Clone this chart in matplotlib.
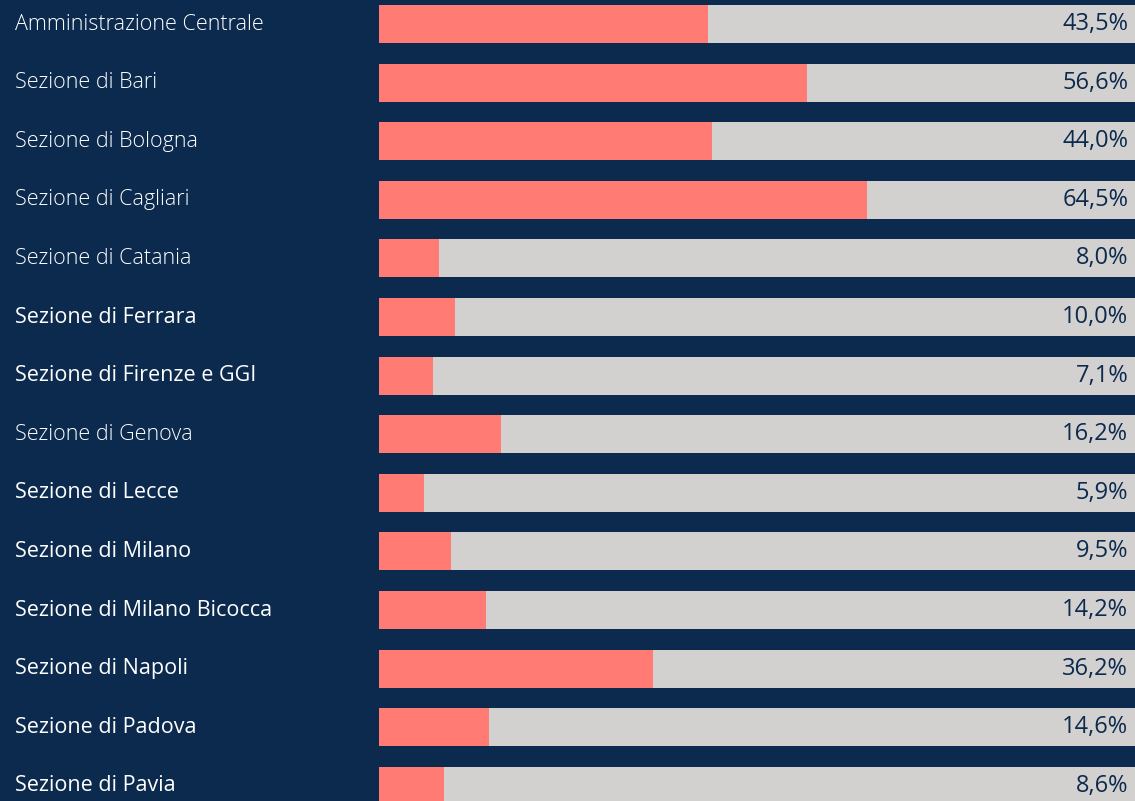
import matplotlib
matplotlib.use("Agg")
import matplotlib.pyplot as plt
import matplotlib.transforms as mtransforms

categories = [
    "Amministrazione Centrale", "Sezione di Bari", "Sezione di Bologna",
    "Sezione di Cagliari", "Sezione di Catania", "Sezione di Ferrara",
    "Sezione di Firenze e GGI", "Sezione di Genova", "Sezione di Lecce",
    "Sezione di Milano", "Sezione di Milano Bicocca", "Sezione di Napoli",
    "Sezione di Padova", "Sezione di Pavia",
]
values = [43.5, 56.6, 44.0, 64.5, 8.0, 10.0, 7.1, 16.2, 5.9, 9.5, 14.2, 36.2, 14.6, 8.6]
label_weights = ["light", "light", "light", "light", "light", "normal", "normal",
                 "light", "normal", "normal", "normal", "normal", "normal", "normal"]

BG = "#0b2a4d"
PINK = "#ff7b73"
GREY = "#d3d0d0"
NAVY = "#0b2a4d"

W, H = 1135, 801
fig = plt.figure(figsize=(W / 100, H / 100), dpi=100, facecolor=BG)
ax = fig.add_axes([379 / W, 0, 756 / W, 1])
ax.set_facecolor(BG)

step = 58.6
n = len(categories)
ypos = list(range(n))
bar_h = 38 / step

ax.barh(ypos, [100] * n, height=bar_h, color=GREY, left=0)
ax.barh(ypos, values, height=bar_h, color=PINK, left=0)

ax.set_xlim(0, 100)
top = -24 / step
bottom = (H - 24) / step
ax.set_ylim(bottom, top)
ax.axis("off")

blend = mtransforms.blended_transform_factory(fig.transFigure, ax.transData)
for i, (c, v, w) in enumerate(zip(categories, values, label_weights)):
    ax.text(99.1, i, f"{v:.1f}".replace(".", ",") + "%", ha="right", va="center",
            fontsize=17, color=NAVY, family="Open Sans")
    ax.text(15 / W, i, c, transform=blend, ha="left", va="center",
            fontsize=15.5, color="white", family="Open Sans", fontweight=w)

fig.savefig("out.png", dpi=100, facecolor=BG)
